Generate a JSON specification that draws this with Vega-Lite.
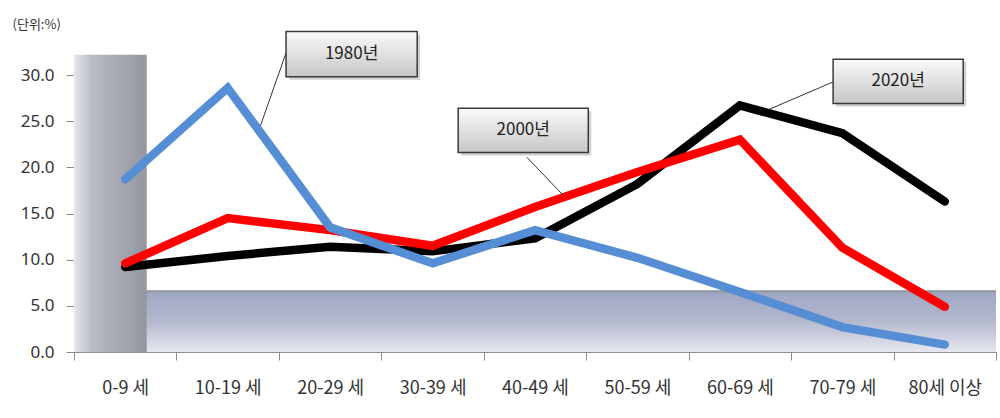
{
  "$schema": "https://vega.github.io/schema/vega-lite/v6.json",
  "width": 922,
  "height": 277,
  "autosize": "none",
  "padding": {"left": 74, "top": 75, "right": 4, "bottom": 66},
  "background": "white",
  "config": {"view": {"stroke": null}, "font": "Noto Sans CJK KR"},
  "datasets": {
    "rates": [
      {"age": "0-9 세", "year": "1980년", "value": 18.7},
      {"age": "10-19 세", "year": "1980년", "value": 28.6},
      {"age": "20-29 세", "year": "1980년", "value": 13.5},
      {"age": "30-39 세", "year": "1980년", "value": 9.6},
      {"age": "40-49 세", "year": "1980년", "value": 13.2},
      {"age": "50-59 세", "year": "1980년", "value": 10.2},
      {"age": "60-69 세", "year": "1980년", "value": 6.5},
      {"age": "70-79 세", "year": "1980년", "value": 2.7},
      {"age": "80세 이상", "year": "1980년", "value": 0.8},
      {"age": "0-9 세", "year": "2000년", "value": 9.6},
      {"age": "10-19 세", "year": "2000년", "value": 14.5},
      {"age": "20-29 세", "year": "2000년", "value": 13.2},
      {"age": "30-39 세", "year": "2000년", "value": 11.5},
      {"age": "40-49 세", "year": "2000년", "value": 15.7},
      {"age": "50-59 세", "year": "2000년", "value": 19.5},
      {"age": "60-69 세", "year": "2000년", "value": 23.0},
      {"age": "70-79 세", "year": "2000년", "value": 11.3},
      {"age": "80세 이상", "year": "2000년", "value": 4.9},
      {"age": "0-9 세", "year": "2020년", "value": 9.2},
      {"age": "10-19 세", "year": "2020년", "value": 10.4},
      {"age": "20-29 세", "year": "2020년", "value": 11.4},
      {"age": "30-39 세", "year": "2020년", "value": 10.9},
      {"age": "40-49 세", "year": "2020년", "value": 12.3},
      {"age": "50-59 세", "year": "2020년", "value": 18.2},
      {"age": "60-69 세", "year": "2020년", "value": 26.7},
      {"age": "70-79 세", "year": "2020년", "value": 23.7},
      {"age": "80세 이상", "year": "2020년", "value": 16.3}
    ]
  },
  "layer": [
    {
      "data": {"values": [{}]},
      "layer": [
        {
          "mark": {"type": "rect", "fill": {"gradient": "linear", "x1": 0, "y1": 0, "x2": 0, "y2": 1, "stops": [{"offset": 0, "color": "#858d88"}, {"offset": 0.05, "color": "#a0a7c2"}, {"offset": 0.5, "color": "#b3b8ce"}, {"offset": 1, "color": "#e6e8ef"}]}},
          "encoding": {
            "x": {"datum": 0, "type": "quantitative", "scale": {"domain": [0, 9], "nice": false, "zero": false}, "axis": null},
            "x2": {"datum": 9},
            "y": {"datum": 0, "type": "quantitative", "scale": {"domain": [0, 30], "nice": false}, "axis": null},
            "y2": {"datum": 6.7}
          }
        },
        {
          "mark": {"type": "rect", "fill": {"gradient": "linear", "x1": 0, "y1": 0, "x2": 1, "y2": 0, "stops": [{"offset": 0, "color": "#e6e7ec"}, {"offset": 0.25, "color": "#b8bbc5"}, {"offset": 1, "color": "#93969f"}]}},
          "encoding": {
            "x": {"datum": 0, "type": "quantitative", "scale": {"domain": [0, 9], "nice": false, "zero": false}, "axis": null},
            "x2": {"datum": 0.71},
            "y": {"datum": 0, "type": "quantitative", "scale": {"domain": [0, 30], "nice": false}, "axis": null},
            "y2": {"datum": 32.2}
          }
        },
        {
          "mark": {"type": "text", "text": "(단위:%)", "fontSize": 13, "color": "#333333", "align": "left", "baseline": "middle", "font": "Noto Sans CJK KR"},
          "encoding": {
            "x": {"datum": -0.6, "type": "quantitative", "scale": {"domain": [0, 9], "nice": false, "zero": false}, "axis": null},
            "y": {"datum": 35.4, "type": "quantitative", "scale": {"domain": [0, 30], "nice": false}, "axis": null}
          }
        }
      ]
    },
    {
      "data": {"name": "rates"},
      "encoding": {
        "x": {
          "field": "age", "type": "nominal", "bandPosition": 0.5,
          "scale": {"type": "band", "paddingInner": 0, "paddingOuter": 0, "domain": ["0-9 세", "10-19 세", "20-29 세", "30-39 세", "40-49 세", "50-59 세", "60-69 세", "70-79 세", "80세 이상"]},
          "axis": {"title": null, "tickBand": "extent", "tickSize": 8, "labelPadding": 19, "labelFontSize": 18, "labelColor": "#333333", "domainColor": "#8c8c8c", "tickColor": "#8c8c8c", "labelAngle": 0, "labelFont": "Noto Sans CJK KR", "grid": false}
        },
        "y": {
          "field": "value", "type": "quantitative",
          "scale": {"domain": [0, 30], "nice": false},
          "axis": {"title": null, "values": [0, 5, 10, 15, 20, 25, 30], "format": ".1f", "tickSize": 8, "labelPadding": 12, "labelFontSize": 17, "labelColor": "#333333", "domainColor": "#8c8c8c", "tickColor": "#8c8c8c", "grid": false, "labelFont": "Noto Sans"}
        }
      },
      "layer": [
        {"transform": [{"filter": "datum.year === '2020년'"}], "mark": {"type": "line", "color": "#000000", "strokeWidth": 8.5, "strokeCap": "round", "strokeJoin": "miter"}},
        {"transform": [{"filter": "datum.year === '2000년'"}], "mark": {"type": "line", "color": "#ff0000", "strokeWidth": 8.5, "strokeCap": "round", "strokeJoin": "miter"}},
        {"transform": [{"filter": "datum.year === '1980년'"}], "mark": {"type": "line", "color": "#558ed5", "strokeWidth": 8.5, "strokeCap": "round", "strokeJoin": "miter"}}
      ]
    },
    {
      "data": {"values": [{}]},
      "layer": [
        {"mark": {"type": "rule", "color": "#333333", "strokeWidth": 1},
         "encoding": {"x": {"datum": 2.07, "type": "quantitative", "scale": {"domain": [0, 9], "nice": false, "zero": false}, "axis": null}, "x2": {"datum": 1.82}, "y": {"datum": 32.4, "type": "quantitative", "scale": {"domain": [0, 30], "nice": false}, "axis": null}, "y2": {"datum": 24.5}}},
        {"mark": {"type": "rule", "color": "#333333", "strokeWidth": 1},
         "encoding": {"x": {"datum": 4.42, "type": "quantitative", "scale": {"domain": [0, 9], "nice": false, "zero": false}, "axis": null}, "x2": {"datum": 4.79}, "y": {"datum": 21.1, "type": "quantitative", "scale": {"domain": [0, 30], "nice": false}, "axis": null}, "y2": {"datum": 16.8}}},
        {"mark": {"type": "rule", "color": "#333333", "strokeWidth": 1},
         "encoding": {"x": {"datum": 7.41, "type": "quantitative", "scale": {"domain": [0, 9], "nice": false, "zero": false}, "axis": null}, "x2": {"datum": 6.79}, "y": {"datum": 29.25, "type": "quantitative", "scale": {"domain": [0, 30], "nice": false}, "axis": null}, "y2": {"datum": 26.3}}},

        {"mark": {"type": "rect", "fill": "#9a9a9a", "opacity": 0.45, "xOffset": 3, "x2Offset": 3, "yOffset": 3, "y2Offset": 3},
         "encoding": {"x": {"datum": 2.07, "type": "quantitative", "scale": {"domain": [0, 9], "nice": false, "zero": false}, "axis": null}, "x2": {"datum": 3.35}, "y": {"datum": 34.7, "type": "quantitative", "scale": {"domain": [0, 30], "nice": false}, "axis": null}, "y2": {"datum": 29.8}}},
        {"mark": {"type": "rect", "stroke": "#3a3a3a", "strokeWidth": 1.5, "fill": {"gradient": "linear", "x1": 0, "y1": 0, "x2": 0, "y2": 1, "stops": [{"offset": 0, "color": "#fafafa"}, {"offset": 1, "color": "#c6c6c6"}]}},
         "encoding": {"x": {"datum": 2.07, "type": "quantitative", "scale": {"domain": [0, 9], "nice": false, "zero": false}, "axis": null}, "x2": {"datum": 3.35}, "y": {"datum": 34.7, "type": "quantitative", "scale": {"domain": [0, 30], "nice": false}, "axis": null}, "y2": {"datum": 29.8}}},
        {"mark": {"type": "text", "text": "1980년", "fontSize": 17, "color": "#222222", "align": "center", "baseline": "middle", "font": "Noto Sans CJK KR"},
         "encoding": {"x": {"datum": 2.71, "type": "quantitative", "scale": {"domain": [0, 9], "nice": false, "zero": false}, "axis": null}, "y": {"datum": 32.25, "type": "quantitative", "scale": {"domain": [0, 30], "nice": false}, "axis": null}}},

        {"mark": {"type": "rect", "fill": "#9a9a9a", "opacity": 0.45, "xOffset": 3, "x2Offset": 3, "yOffset": 3, "y2Offset": 3},
         "encoding": {"x": {"datum": 3.75, "type": "quantitative", "scale": {"domain": [0, 9], "nice": false, "zero": false}, "axis": null}, "x2": {"datum": 5.02}, "y": {"datum": 26.4, "type": "quantitative", "scale": {"domain": [0, 30], "nice": false}, "axis": null}, "y2": {"datum": 21.6}}},
        {"mark": {"type": "rect", "stroke": "#3a3a3a", "strokeWidth": 1.5, "fill": {"gradient": "linear", "x1": 0, "y1": 0, "x2": 0, "y2": 1, "stops": [{"offset": 0, "color": "#fafafa"}, {"offset": 1, "color": "#c6c6c6"}]}},
         "encoding": {"x": {"datum": 3.75, "type": "quantitative", "scale": {"domain": [0, 9], "nice": false, "zero": false}, "axis": null}, "x2": {"datum": 5.02}, "y": {"datum": 26.4, "type": "quantitative", "scale": {"domain": [0, 30], "nice": false}, "axis": null}, "y2": {"datum": 21.6}}},
        {"mark": {"type": "text", "text": "2000년", "fontSize": 17, "color": "#222222", "align": "center", "baseline": "middle", "font": "Noto Sans CJK KR"},
         "encoding": {"x": {"datum": 4.385, "type": "quantitative", "scale": {"domain": [0, 9], "nice": false, "zero": false}, "axis": null}, "y": {"datum": 24.0, "type": "quantitative", "scale": {"domain": [0, 30], "nice": false}, "axis": null}}},

        {"mark": {"type": "rect", "fill": "#9a9a9a", "opacity": 0.45, "xOffset": 3, "x2Offset": 3, "yOffset": 3, "y2Offset": 3},
         "encoding": {"x": {"datum": 7.41, "type": "quantitative", "scale": {"domain": [0, 9], "nice": false, "zero": false}, "axis": null}, "x2": {"datum": 8.68}, "y": {"datum": 31.7, "type": "quantitative", "scale": {"domain": [0, 30], "nice": false}, "axis": null}, "y2": {"datum": 26.9}}},
        {"mark": {"type": "rect", "stroke": "#3a3a3a", "strokeWidth": 1.5, "fill": {"gradient": "linear", "x1": 0, "y1": 0, "x2": 0, "y2": 1, "stops": [{"offset": 0, "color": "#fafafa"}, {"offset": 1, "color": "#c6c6c6"}]}},
         "encoding": {"x": {"datum": 7.41, "type": "quantitative", "scale": {"domain": [0, 9], "nice": false, "zero": false}, "axis": null}, "x2": {"datum": 8.68}, "y": {"datum": 31.7, "type": "quantitative", "scale": {"domain": [0, 30], "nice": false}, "axis": null}, "y2": {"datum": 26.9}}},
        {"mark": {"type": "text", "text": "2020년", "fontSize": 17, "color": "#222222", "align": "center", "baseline": "middle", "font": "Noto Sans CJK KR"},
         "encoding": {"x": {"datum": 8.045, "type": "quantitative", "scale": {"domain": [0, 9], "nice": false, "zero": false}, "axis": null}, "y": {"datum": 29.3, "type": "quantitative", "scale": {"domain": [0, 30], "nice": false}, "axis": null}}}
      ]
    }
  ],
  "resolve": {"scale": {"x": "independent", "y": "independent"}}
}
